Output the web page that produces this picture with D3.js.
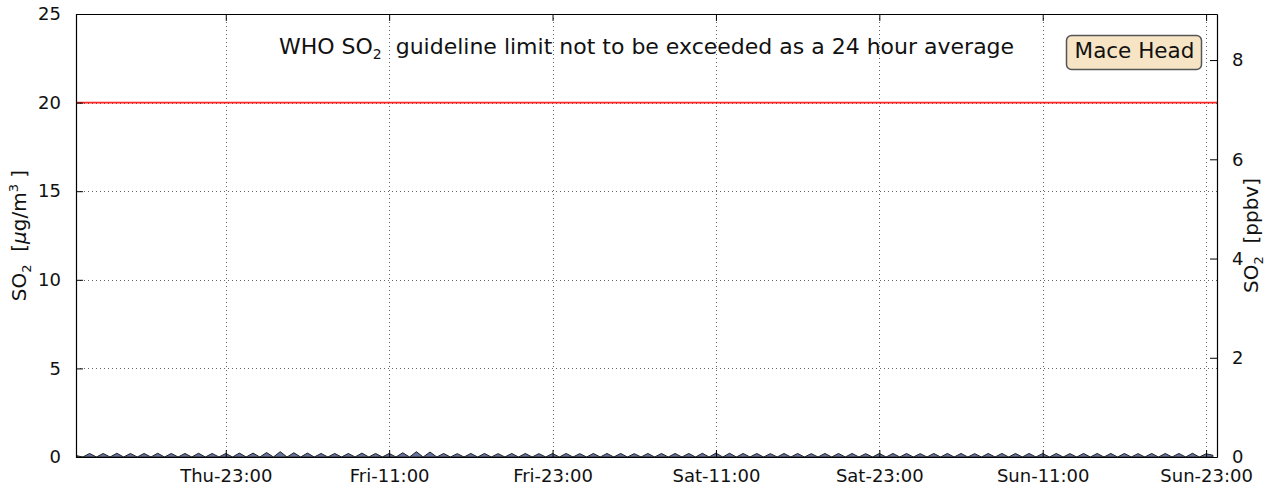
<!DOCTYPE html>
<html><head><meta charset="utf-8">
<script src="https://cdn.jsdelivr.net/npm/d3@7"></script>
<style>
body{margin:0;background:#fff}
svg{display:block;font-family:"DejaVu Sans",sans-serif}
</style>
</head><body>
<svg id="chart" width="1271" height="488"></svg>
<script>
// ---------------- data ----------------
const xStart = "2015-01-01 12:00";   // Thursday
const xEnd = "2015-01-04 23:48";     // Sunday
const tickTimes = ["2015-01-01 23:00","2015-01-02 11:00","2015-01-02 23:00","2015-01-03 11:00",
                   "2015-01-03 23:00","2015-01-04 11:00","2015-01-04 23:00"];
const sampleStart = "2015-01-01 12:00";
const sampleStepMinutes = 30;
// SO2 concentration in µg/m³, one value every 30 minutes
const so2Values = [
  0.08,0, 0.20,0, 0.20,0, 0.21,0, 0.20,0, 0.20,0, 0.21,0, 0.20,0, 0.20,0, 0.21,0, 0.20,0, 0.20,0,
  0.22,0, 0.22,0, 0.25,0, 0.30,0, 0.24,0, 0.22,0, 0.20,0, 0.20,0, 0.20,0, 0.22,0, 0.20,0, 0.20,0,
  0.24,0, 0.30,0, 0.28,0, 0.20,0, 0.19,0, 0.20,0, 0.20,0, 0.19,0, 0.20,0, 0.20,0, 0.19,0, 0.20,0,
  0.20,0, 0.19,0, 0.20,0, 0.20,0, 0.20,0, 0.19,0, 0.20,0, 0.20,0, 0.20,0, 0.20,0, 0.21,0, 0.22,0,
  0.21,0, 0.20,0, 0.20,0, 0.19,0, 0.20,0, 0.20,0, 0.19,0, 0.20,0, 0.20,0, 0.20,0, 0.19,0, 0.20,0,
  0.20,0, 0.20,0, 0.19,0, 0.20,0, 0.20,0, 0.20,0, 0.19,0, 0.20,0, 0.20,0, 0.20,0, 0.20,0, 0.20,0,
  0.20,0, 0.19,0, 0.20,0, 0.20,0, 0.20,0, 0.20,0, 0.19,0, 0.20,0, 0.20,0, 0.20,0, 0.21,0, 0.18,0.10
];
const leftTicks = [0,5,10,15,20,25];
const rightTicks = [0,2,4,6,8];
const whoLimit = 20;          // µg/m³
const ugPerPpbv = 2.8;        // conversion µg/m³ per ppbv
const titleText = "WHO SO";
const stationName = "Mace Head";

// ---------------- layout ----------------
const W = 1271, H = 488;
const m = {left:76, right:54, top:14, bottom:31};
const x0 = m.left, x1 = W - m.right, y0 = H - m.bottom, y1 = m.top;

const parse = d3.timeParse("%Y-%m-%d %H:%M");
const svg = d3.select("#chart");

const x = d3.scaleTime().domain([parse(xStart), parse(xEnd)]).range([x0, x1]);
const yL = d3.scaleLinear().domain([0, 25]).range([y0, y1]);
const yR = d3.scaleLinear().domain([0, 25/ugPerPpbv]).range([y0, y1]);

const t0 = parse(sampleStart);
const series = so2Values.map((v,i) => ({t: d3.timeMinute.offset(t0, i*sampleStepMinutes), v}));
const ticks = tickTimes.map(parse);

svg.append("defs").append("clipPath").attr("id","clip")
  .append("rect").attr("x",x0).attr("y",y1).attr("width",x1-x0).attr("height",y0-y1);

// grid
const grid = svg.append("g").attr("stroke","#000").attr("stroke-width",1)
  .attr("stroke-dasharray","1,3").attr("opacity",0.6);
grid.selectAll("line.v").data(ticks).join("line").attr("class","v")
  .attr("x1",d=>Math.round(x(d))+0.5).attr("x2",d=>Math.round(x(d))+0.5)
  .attr("y1",y1).attr("y2",y0);
grid.selectAll("line.h").data(leftTicks.filter(d=>d>0 && d<25)).join("line").attr("class","h")
  .attr("x1",x0).attr("x2",x1)
  .attr("y1",d=>Math.round(yL(d))+0.5).attr("y2",d=>Math.round(yL(d))+0.5);

// WHO limit line
svg.append("line").attr("x1",x0).attr("x2",x1)
  .attr("y1",yL(whoLimit)).attr("y2",yL(whoLimit))
  .attr("stroke","#ff0000").attr("stroke-width",1.6).attr("opacity",0.85);

// data area
const area = d3.area().x(d=>x(d.t)).y0(yL(0)).y1(d=>yL(d.v));
svg.append("path").datum(series).attr("clip-path","url(#clip)")
  .attr("d",area).attr("fill","#65729e").attr("stroke","#222").attr("stroke-width",1);

// axes
const fs = "18px";
const axB = svg.append("g").attr("transform",`translate(0,${y0})`)
  .call(d3.axisBottom(x).tickValues(ticks).tickFormat(d3.timeFormat("%a-%H:%M"))
        .tickSizeInner(-7).tickSizeOuter(0).tickPadding(12));
const axT = svg.append("g").attr("transform",`translate(0,${y1})`)
  .call(d3.axisTop(x).tickValues(ticks).tickFormat("").tickSizeInner(-7).tickSizeOuter(0));
const axL = svg.append("g").attr("transform",`translate(${x0},0)`)
  .call(d3.axisLeft(yL).tickValues(leftTicks).tickFormat(d3.format("d"))
        .tickSizeInner(-7).tickSizeOuter(0).tickPadding(15));
const axR = svg.append("g").attr("transform",`translate(${x1},0)`)
  .call(d3.axisRight(yR).tickValues(rightTicks).tickFormat(d3.format("d"))
        .tickSizeInner(-7).tickSizeOuter(0).tickPadding(15));
[axB,axT,axL,axR].forEach(g=>{
  g.selectAll("text").attr("font-size",fs).attr("fill","#111").attr("font-family","DejaVu Sans");
  g.selectAll(".tick line").attr("stroke","#000");
  g.select(".domain").attr("stroke","#000").attr("stroke-width",1.2);
});

// title text
const tt = svg.append("text").attr("x",(x0+x1)/2).attr("y",54)
  .attr("text-anchor","middle").attr("font-size","22px").attr("fill","#111");
tt.append("tspan").text(titleText);
tt.append("tspan").text("2").attr("font-size","14px").attr("dy",5);
tt.append("tspan").text("  guideline limit not to be exceeded as a 24 hour average").attr("dy",-5)
  .attr("xml:space","preserve");

// station box
const bx = svg.append("g");
bx.append("rect").attr("x",1066.5).attr("y",35.5).attr("width",135).attr("height",34).attr("rx",5)
  .attr("fill","#f6e4c4").attr("stroke","#555").attr("stroke-width",1.5);
bx.append("text").attr("x",1134.5).attr("y",58).attr("text-anchor","middle")
  .attr("font-size","21.5px").attr("fill","#111").text(stationName);

// y labels
const yl = svg.append("text").attr("transform",`translate(26,${(y0+y1)/2}) rotate(-90)`)
  .attr("text-anchor","middle").attr("font-size","20px").attr("fill","#111");
yl.append("tspan").text("SO");
yl.append("tspan").text("2").attr("font-size","13px").attr("dy",5);
yl.append("tspan").attr("dy",-5).text("  [").attr("xml:space","preserve");
yl.append("tspan").text("μ").attr("font-style","italic");
yl.append("tspan").text("g/m");
yl.append("tspan").text("3").attr("font-size","13px").attr("dy",-8);
yl.append("tspan").text(" ]").attr("dy",8).attr("xml:space","preserve");

const yr = svg.append("text").attr("transform",`translate(1258,${(y0+y1)/2}) rotate(-90)`)
  .attr("text-anchor","middle").attr("font-size","20px").attr("fill","#111");
yr.append("tspan").text("SO");
yr.append("tspan").text("2").attr("font-size","13px").attr("dy",5);
yr.append("tspan").attr("dy",-5).text("  [ppbv]").attr("xml:space","preserve");
</script>
</body></html>
